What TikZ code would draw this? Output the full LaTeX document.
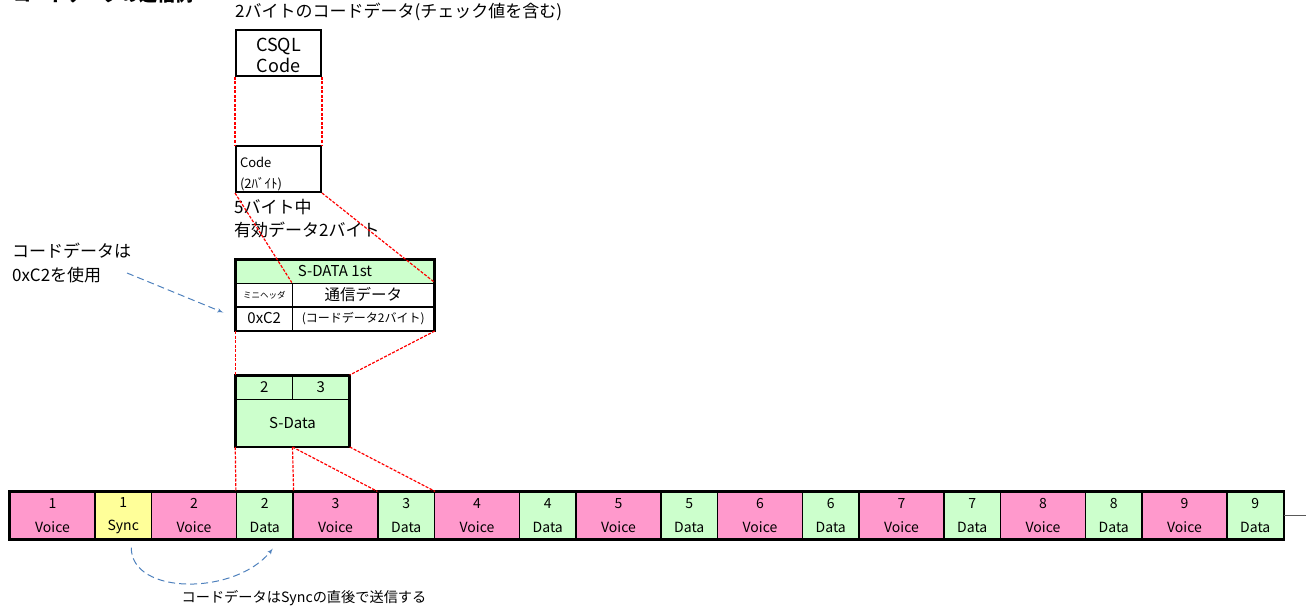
\documentclass[tikz,border=0pt]{standalone}
\usepackage{fontspec}
\setmainfont{Noto Sans CJK JP}
\usepackage{tikz}
\usetikzlibrary{arrows}
\definecolor{voicepink}{HTML}{FF99CC}
\definecolor{datagreen}{HTML}{CCFFCC}
\definecolor{syncyellow}{HTML}{FFFF99}
\definecolor{arrowblue}{HTML}{4F81BD}
\definecolor{zoomred}{HTML}{FF0000}
\tikzstyle{zoomline} = [draw=zoomred, dash pattern=on 3pt off 1.5pt, line width=1.2pt]
\tikzstyle{pointer} = [draw=arrowblue, dash pattern=on 7pt off 4pt, line width=1pt, -latex']
\tikzstyle{voice} = [rectangle, draw, line width=1.2pt, fill=voicepink, minimum width=85pt, minimum height=47pt, inner sep=0pt, align=center, node distance=70.75pt, font=\fontsize{14}{23.5}\selectfont]
\tikzstyle{sync} = [voice, fill=syncyellow, minimum width=56.5pt]
\tikzstyle{sdata} = [voice, fill=datagreen, minimum width=56.5pt]
\tikzstyle{tabcell} = [rectangle, draw, line width=1.5pt, minimum width=56.5pt, minimum height=23.5pt, inner sep=0pt, font=\fontsize{15}{17}\selectfont]
\tikzstyle{codebox} = [rectangle, draw, line width=2pt, minimum width=85pt, minimum height=46pt, inner sep=0pt]
\tikzstyle{remark} = [inner sep=0pt, align=left, font=\fontsize{17}{23.5}\selectfont]

\begin{document}
\begin{tikzpicture}[x=1pt, y=-1pt]
\useasboundingbox (0,0) rectangle (1306,607);

\node [remark, anchor=base west, font=\fontsize{18}{20}\selectfont\bfseries] (title) at (13,1.5) {コードデータの送信例};

\node [voice] (v1) at (52.5,515.5) {1\\Voice};
\node [sync, right of=v1] (s1) {1\\Sync};
\node [voice, right of=s1] (v2) {2\\Voice};
\node [sdata, right of=v2] (d2) {2\\Data};
\node [voice, right of=d2] (v3) {3\\Voice};
\node [sdata, right of=v3] (d3) {3\\Data};
\node [voice, right of=d3] (v4) {4\\Voice};
\node [sdata, right of=v4] (d4) {4\\Data};
\node [voice, right of=d4] (v5) {5\\Voice};
\node [sdata, right of=v5] (d5) {5\\Data};
\node [voice, right of=d5] (v6) {6\\Voice};
\node [sdata, right of=v6] (d6) {6\\Data};
\node [voice, right of=d6] (v7) {7\\Voice};
\node [sdata, right of=v7] (d7) {7\\Data};
\node [voice, right of=d7] (v8) {8\\Voice};
\node [sdata, right of=v8] (d8) {8\\Data};
\node [voice, right of=d8] (v9) {9\\Voice};
\node [sdata, right of=v9] (d9) {9\\Data};
\draw [line width=2.4pt] (v1.north west) rectangle (d9.south east);
\coordinate (tail) at (1306,515.5);
\draw [line width=1.8pt, black!65] (d9.east) -- (tail);

\node [tabcell, fill=datagreen] (n2) at (264.25,387.5) {2};
\node [tabcell, fill=datagreen, right of=n2, node distance=56.5pt] (n3) {3};
\node [tabcell, fill=datagreen, minimum width=113pt, minimum height=47pt, below of=n2, node distance=35.25pt, xshift=28.25pt] (sbody) {S-Data};
\draw [line width=2.2pt] (n2.north west) rectangle (sbody.south east);

\node [tabcell, font=\fontsize{8.5}{10}\selectfont] (mh) at (264.25,295) {ミニヘッダ};
\node [tabcell, minimum width=141.5pt, right of=mh, node distance=99pt, font=\fontsize{15.5}{18}\selectfont] (comm) {通信データ};
\node [tabcell, below of=mh, node distance=23.5pt] (hx) {0xC2};
\node [tabcell, minimum width=141.5pt, below of=comm, node distance=23.5pt, font=\fontsize{12}{14}\selectfont] (cd) {(コードデータ2バイト)};
\node [tabcell, fill=datagreen, minimum width=198pt, above of=mh, node distance=23.5pt, xshift=70.75pt] (sd1) {S-DATA 1st};
\draw [line width=2.2pt] (sd1.north west) rectangle (cd.south east);

\node [codebox, text width=77pt, inner xsep=4pt, align=left, font=\fontsize{13}{21}\selectfont] (code) at (278.5,169) {\rule{0pt}{20pt}Code\\(2ﾊﾞｲﾄ)};
\node [codebox, align=center, above of=code, node distance=116pt, font=\fontsize{18}{21.5}\selectfont] (csql) {\rule{0pt}{18pt}CSQL\\Code};

\node [remark, anchor=west] (top) at (235,12) {2バイトのコードデータ(チェック値を含む)};
\node [remark, anchor=north west] (valid) at (234,199) {5バイト中\\有効データ2バイト};
\node [remark, anchor=west] (note) at (12,263) {コードデータは\\0xC2を使用};
\node [remark, font=\fontsize{14.2}{18}\selectfont] (note2) at (304,598) {コードデータはSyncの直後で送信する};

\path [zoomline] (csql.south west) to (code.north west);
\path [zoomline] (csql.south east) to (code.north east);
\path [zoomline] (code.south west) to (comm.north west);
\path [zoomline] (code.south east) to (comm.north east);
\path [zoomline] (hx.south west) to (n2.north west);
\path [zoomline] (cd.south east) to (n3.north east);
\path [zoomline] (sbody.south west) to (d2.north west);
\path [zoomline] (sbody.south) to (d2.north east);
\path [zoomline] (sbody.south) to (d3.north west);
\path [zoomline] (sbody.south east) to (d3.north east);

\coordinate (ptr) at (127,273);
\path [pointer] (ptr) to ([xshift=-12pt,yshift=6pt]hx.west);
\path [pointer] ([xshift=8pt,yshift=-8pt]s1.south) .. controls +(0,48) and +(-37,47) .. ([xshift=8pt,yshift=-9pt]d2.south);

\end{tikzpicture}
\end{document}
